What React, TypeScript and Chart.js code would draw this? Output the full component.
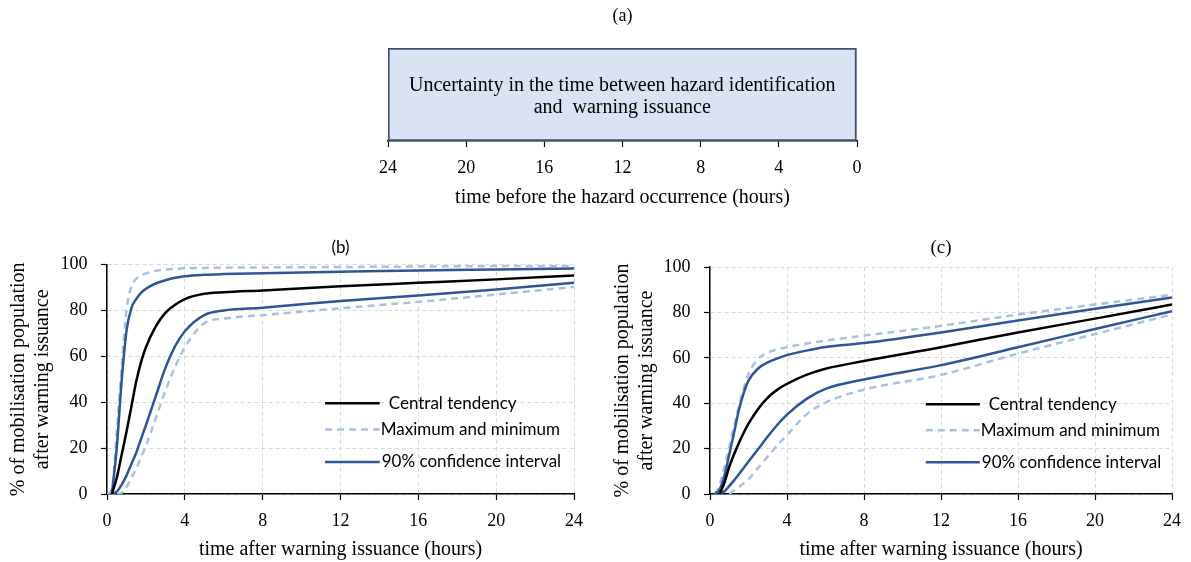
import React, { useEffect, useRef } from "react";
import { Chart, registerables } from "chart.js";

Chart.register(...registerables);

// ---------- data ----------
const HOURS = [0, 0.25, 0.5, 0.75, 1, 1.25, 1.5, 1.75, 2, 2.5, 3, 3.5, 4, 5, 6, 8, 12, 16, 20, 24];

// panel (b)
const B_MAX = [0, 2, 27, 55, 80, 90.5, 93.8, 95.4, 96.2, 97.3, 97.9, 98.2, 98.4, 98.6, 98.7, 98.8, 99, 99.2, 99.4, 99.5];
const B_CI_UP = [null, 0, 20, 49, 71, 81, 85, 87.7, 89.5, 91.8, 93.2, 94.3, 95, 95.6, 95.9, 96.3, 96.9, 97.5, 97.9, 98.3];
const B_CENTRAL = [null, 0, 7, 17, 27, 38, 49, 57.5, 64, 73, 79, 82.5, 85, 87.3, 88, 88.8, 90.6, 92.1, 93.6, 95.3];
const B_CI_LOW = [null, 0, 1, 4, 8, 13, 18, 24, 30, 42.5, 55, 64.5, 71, 78, 80, 81.2, 84.2, 86.6, 89.2, 92.1];
const B_MIN = [null, null, 0, 0.5, 3, 7, 11, 16, 21, 33, 45, 55.5, 64, 74.5, 76.5, 78, 81, 83.8, 87, 90.3];

// panel (c)
const C_MAX = [null, 0, 4, 12, 20.5, 30, 38.5, 46.5, 53, 59.5, 62.3, 63.7, 64.7, 66.3, 67.6, 69.8, 74.1, 79.1, 83.5, 87.8];
const C_CI_UP = [null, 0, 2, 8, 17.5, 27, 37, 44.5, 50, 55.3, 58, 59.8, 61.2, 63.2, 64.8, 66.5, 71.2, 76.5, 81.6, 86.6];
const C_CENTRAL = [null, null, 0, 5, 12, 17.5, 22.5, 27, 31, 37.5, 42.5, 46, 48.5, 52.5, 55.2, 58.6, 64.7, 71.2, 77.3, 83.5];
const C_CI_LOW = [null, null, 0, 1.2, 3.5, 6, 8.7, 11.5, 14.3, 19.8, 25.3, 30.5, 35, 41.8, 46.3, 50.5, 56.8, 64.7, 72.7, 80.6];
const C_MIN = [null, null, null, null, 0, 1.5, 3, 4.7, 6.5, 11.5, 16.5, 21.5, 26, 35, 40.3, 46, 52.5, 61.9, 70.5, 79.1];

const X_TICKS = [0, 4, 8, 12, 16, 20, 24];
const Y_TICKS = [0, 20, 40, 60, 80, 100];
const A_TICKS = [24, 20, 16, 12, 8, 4, 0];
const A_RANGE: [number, number] = [0, 24];

const A_TEXT = ["Uncertainty in the time between hazard identification", "and  warning issuance"];
const LEGEND_LABELS = ["Central tendency", "Maximum and minimum", "90% confidence interval"];
const Y_TITLE = ["% of mobilisation population", "after warning issuance"];
const X_TITLE = "time after warning issuance (hours)";
const A_TITLE = "time before the hazard occurrence (hours)";

// ---------- styles ----------
const SERIF = "'Liberation Serif', serif";
const SANS = "Lato, sans-serif";
const C_BLACK = "#000000";
const C_DARK = "#2f5597";
const C_LIGHT = "#a9c0e6";
const LW = 2.5;
const DASH = [7, 5];

const STYLES = {
  central: { color: C_BLACK, dash: [] as number[] },
  minmax: { color: C_LIGHT, dash: DASH },
  ci: { color: C_DARK, dash: [] as number[] },
};

function mkDatasets(max: any[], up: any[], cen: any[], low: any[], min: any[]) {
  const ds = (data: any[], st: { color: string; dash: number[] }, order: number) => ({
    data: HOURS.map((h, i) => ({ x: h, y: data[i] })),
    borderColor: st.color,
    borderWidth: LW,
    borderDash: st.dash,
    pointRadius: 0,
    fill: false,
    cubicInterpolationMode: "monotone" as const,
    order,
  });
  return [
    ds(max, STYLES.minmax, 3),
    ds(min, STYLES.minmax, 3),
    ds(up, STYLES.ci, 2),
    ds(low, STYLES.ci, 2),
    ds(cen, STYLES.central, 1),
  ];
}

const legendPlugin = {
  id: "customLegend",
  afterDatasetsDraw(chart: any) {
    const { ctx, chartArea: a } = chart;
    const w = a.right - a.left;
    const h = a.bottom - a.top;
    const x1 = a.left + 0.467 * w;
    const x2 = a.left + 0.584 * w;
    const fr = [0.396, 0.281, 0.14];
    const gaps = [9, 1, 2];
    const st = [STYLES.central, STYLES.minmax, STYLES.ci];
    LEGEND_LABELS.forEach((label, i) => {
      const y = a.bottom - fr[i] * h;
      ctx.save();
      ctx.strokeStyle = st[i].color;
      ctx.lineWidth = LW;
      ctx.setLineDash(st[i].dash);
      ctx.beginPath();
      ctx.moveTo(x1, y);
      ctx.lineTo(x2, y);
      ctx.stroke();
      ctx.setLineDash([]);
      ctx.fillStyle = "#000";
      ctx.font = `17px ${SANS}`;
      ctx.textAlign = "left";
      ctx.textBaseline = "middle";
      ctx.fillText(label, x2 + gaps[i], y);
      ctx.restore();
    });
  },
};

const boxTextPlugin = {
  id: "boxText",
  afterDatasetsDraw(chart: any) {
    const { ctx } = chart;
    const bar = chart.getDatasetMeta(0).data[0] as any;
    if (!bar) return;
    const cx = (bar.x + bar.base) / 2;
    const cy = bar.y;
    ctx.save();
    ctx.fillStyle = "#000";
    ctx.font = `20px ${SERIF}`;
    ctx.textAlign = "center";
    ctx.textBaseline = "middle";
    ctx.fillText(A_TEXT[0], cx, cy - 9);
    ctx.fillText(A_TEXT[1], cx, cy + 13);
    ctx.restore();
  },
};

function lineConfig(cfg: {
  datasets: any[];
  title: string;
  titleFont: any;
  yWidth: number;
  padRight: number;
  yTitlePad: number;
}): any {
  const grid = {
    color: "#d9d9d9",
    lineWidth: 1,
    tickColor: "#000",
    tickLength: 6,
    tickWidth: 1.2,
  };
  const border = { color: "#000", width: 1.5, dash: [4, 3] };
  return {
    type: "line",
    data: { datasets: cfg.datasets },
    options: {
      responsive: false,
      animation: false,
      events: [],
      layout: { padding: { right: cfg.padRight, left: 0, top: 0, bottom: 0 } },
      plugins: {
        legend: { display: false },
        tooltip: { enabled: false },
        title: {
          display: true,
          text: cfg.title,
          fullSize: false,
          color: "#000",
          font: cfg.titleFont,
          padding: { top: 7, bottom: 7.3 },
        },
      },
      scales: {
        x: {
          type: "linear",
          min: 0,
          max: 24,
          afterBuildTicks: (s: any) => {
            s.ticks = X_TICKS.map((v) => ({ value: v }));
          },
          afterFit: (s: any) => {
            s.height = 68;
          },
          ticks: { color: "#000", font: { family: SERIF, size: 18 }, padding: 10, maxRotation: 0, autoSkip: false },
          grid,
          border,
          title: {
            display: true,
            text: X_TITLE,
            color: "#000",
            font: { family: SERIF, size: 20 },
            padding: { top: 0, bottom: 0 },
          },
        },
        y: {
          type: "linear",
          min: 0,
          max: 100,
          afterBuildTicks: (s: any) => {
            s.ticks = Y_TICKS.map((v) => ({ value: v }));
          },
          afterFit: (s: any) => {
            s.width = cfg.yWidth;
          },
          ticks: { color: "#000", font: { family: SERIF, size: 18 }, padding: 13.5 },
          grid,
          border,
          title: {
            display: true,
            text: Y_TITLE,
            color: "#000",
            font: { family: SERIF, size: 20, lineHeight: 1.2 },
            padding: { top: cfg.yTitlePad, bottom: 0 },
          },
        },
      },
    },
    plugins: [legendPlugin],
  };
}

function barConfig(): any {
  return {
    type: "bar",
    data: {
      labels: [""],
      datasets: [
        {
          data: [A_RANGE],
          backgroundColor: "#dae3f3",
          borderColor: "#3d5270",
          borderWidth: 2,
          borderSkipped: false,
          barPercentage: 1,
          categoryPercentage: 1,
        },
      ],
    },
    options: {
      indexAxis: "y",
      responsive: false,
      animation: false,
      events: [],
      layout: { padding: { left: 88, right: 93, top: 0, bottom: 0 } },
      plugins: {
        legend: { display: false },
        tooltip: { enabled: false },
        title: {
          display: true,
          text: "(a)",
          fullSize: false,
          color: "#000",
          font: { family: SERIF, size: 18, weight: "normal" },
          padding: { top: 5, bottom: 21.4 },
        },
      },
      scales: {
        x: {
          type: "linear",
          reverse: true,
          min: 0,
          max: 24,
          afterBuildTicks: (s: any) => {
            s.ticks = A_TICKS.map((v) => ({ value: v }));
          },
          afterFit: (s: any) => {
            s.height = 74;
          },
          ticks: { color: "#000", font: { family: SERIF, size: 18 }, padding: 10, maxRotation: 0, autoSkip: false },
          grid: { drawOnChartArea: false, tickColor: "#000", tickLength: 6, tickWidth: 1.2 },
          border: { color: "#000", width: 1.5 },
          title: {
            display: true,
            text: A_TITLE,
            color: "#000",
            font: { family: SERIF, size: 20 },
            padding: { top: 0, bottom: 5 },
          },
        },
        y: { display: false },
      },
    },
    plugins: [boxTextPlugin],
  };
}

export default function App() {
  const refA = useRef<HTMLCanvasElement>(null);
  const refB = useRef<HTMLCanvasElement>(null);
  const refC = useRef<HTMLCanvasElement>(null);

  useEffect(() => {
    const charts: Chart[] = [];
    if (refA.current) charts.push(new Chart(refA.current, barConfig()));
    if (refB.current)
      charts.push(
        new Chart(
          refB.current,
          lineConfig({
            datasets: mkDatasets(B_MAX, B_CI_UP, B_CENTRAL, B_CI_LOW, B_MIN),
            title: "(b)",
            titleFont: { family: SANS, size: 17, weight: "normal" },
            yWidth: 107,
            padRight: 26,
            yTitlePad: 7,
          })
        )
      );
    if (refC.current)
      charts.push(
        new Chart(
          refC.current,
          lineConfig({
            datasets: mkDatasets(C_MAX, C_CI_UP, C_CENTRAL, C_CI_LOW, C_MIN),
            title: "(c)",
            titleFont: { family: SERIF, size: 19, weight: "normal" },
            yWidth: 110,
            padRight: 19,
            yTitlePad: 11,
          })
        )
      );
    return () => charts.forEach((c) => c.destroy());
  }, []);

  const abs = (l: number, t: number): React.CSSProperties => ({ position: "absolute", left: l, top: t });

  return (
    <div style={{ position: "fixed", left: 0, top: 0, width: 1191, height: 562, background: "#fff" }}>
      <canvas ref={refA} width={650} height={215} style={abs(300, 0)} />
      <canvas ref={refB} width={600} height={332} style={abs(0, 230)} />
      <canvas ref={refC} width={591} height={332} style={abs(600, 230)} />
    </div>
  );
}
